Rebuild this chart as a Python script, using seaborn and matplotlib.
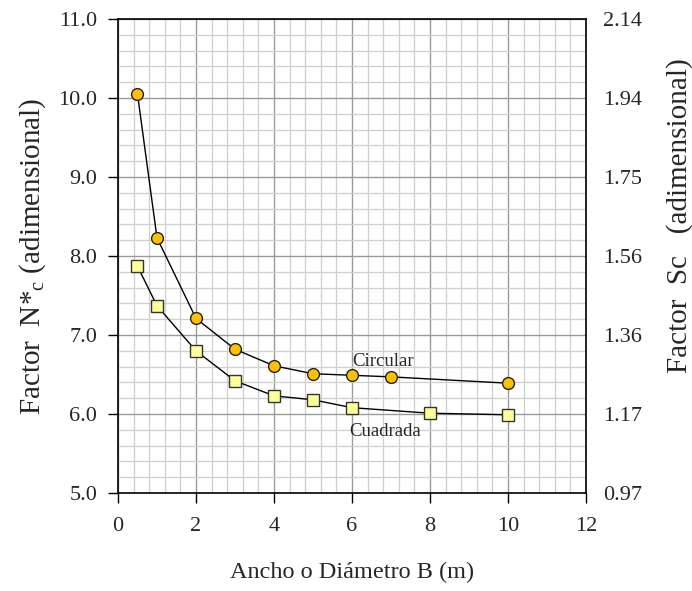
import matplotlib
matplotlib.use("Agg")
import matplotlib.pyplot as plt
import seaborn as sns
import numpy as np
import pandas as pd
from matplotlib.ticker import MultipleLocator

# Data
b_circ = [0.5, 1, 2, 3, 4, 5, 6, 7, 10]
n_circ = [10.05, 8.23, 7.21, 6.82, 6.61, 6.51, 6.49, 6.47, 6.39]
b_cuad = [0.5, 1, 2, 3, 4, 5, 6, 8, 10]
n_cuad = [7.87, 7.37, 6.80, 6.42, 6.23, 6.18, 6.08, 6.01, 5.99]
x_ticks = [0, 2, 4, 6, 8, 10, 12]
y_ticks = [5.0, 6.0, 7.0, 8.0, 9.0, 10.0, 11.0]
sc_labels = ["0.97", "1.17", "1.36", "1.56", "1.75", "1.94", "2.14"]

sns.set_style("white")
plt.rcParams['font.family'] = ['Liberation Serif', 'DejaVu Serif']
plt.rcParams['mathtext.fontset'] = 'custom'
plt.rcParams['mathtext.rm'] = 'Liberation Serif'

fig, ax = plt.subplots(figsize=(6.92, 5.91), dpi=100)
fig.subplots_adjust(left=0.1705, right=0.8468, top=0.9679, bottom=0.1658)

df_c = pd.DataFrame({"B": b_circ, "N": n_circ})
df_q = pd.DataFrame({"B": b_cuad, "N": n_cuad})

sns.lineplot(data=df_c, x="B", y="N", ax=ax, color="black", lw=1.0,
             marker="o", markersize=8.5, markerfacecolor="#FFC000",
             markeredgecolor="#222222", markeredgewidth=1.0, zorder=5)
sns.lineplot(data=df_q, x="B", y="N", ax=ax, color="black", lw=1.0,
             marker="s", markersize=8.5, markerfacecolor="#FFFF99",
             markeredgecolor="#333333", markeredgewidth=1.0, zorder=5)

ax.set_xlim(0, 12)
ax.set_ylim(5, 11)
ax.set_xticks(x_ticks)
ax.set_xticklabels([str(v) for v in x_ticks])
ax.set_yticks(y_ticks)
ax.set_yticklabels([f"{v:.1f}" for v in y_ticks])
ax.xaxis.set_minor_locator(MultipleLocator(0.4))
ax.yaxis.set_minor_locator(MultipleLocator(0.2))
ax.grid(which="minor", color="#cfcfcf", lw=0.9)
ax.grid(which="major", color="#9a9a9a", lw=1.0)
ax.set_axisbelow(True)
ax.tick_params(which="major", direction="out", length=7, width=1.0,
               labelsize=16, color="black", bottom=True, left=True)
ax.tick_params(axis="x", pad=10)
ax.tick_params(axis="y", pad=8)
ax.tick_params(which="minor", length=0)
for s in ax.spines.values():
    s.set_visible(True)
    s.set_color("black")
    s.set_linewidth(1.2)

ax.set_xlabel("Ancho o Diámetro B (m)", fontsize=17.5, labelpad=19)
ax.set_ylabel(r"Factor  N*$\mathregular{_c}$ (adimensional)", fontsize=21, labelpad=7)

ax.text(6.8, 6.67, "Circular", fontsize=13.5, ha="center", va="center")
ax.text(6.85, 5.78, "Cuadrada", fontsize=13.5, ha="center", va="center")

ax2 = ax.twinx()
ax2.set_ylim(5, 11)
ax2.set_yticks(y_ticks)
ax2.set_yticklabels(sc_labels)
ax2.tick_params(axis="y", length=0, labelsize=16, pad=12)
ax2.set_ylabel("Factor  Sc   (adimensional)", fontsize=21)
ax2.yaxis.set_label_coords(1.172, 0.585)
ax2.grid(False)
for s in ax2.spines.values():
    s.set_visible(False)

fig.savefig("out.png", dpi=100)
